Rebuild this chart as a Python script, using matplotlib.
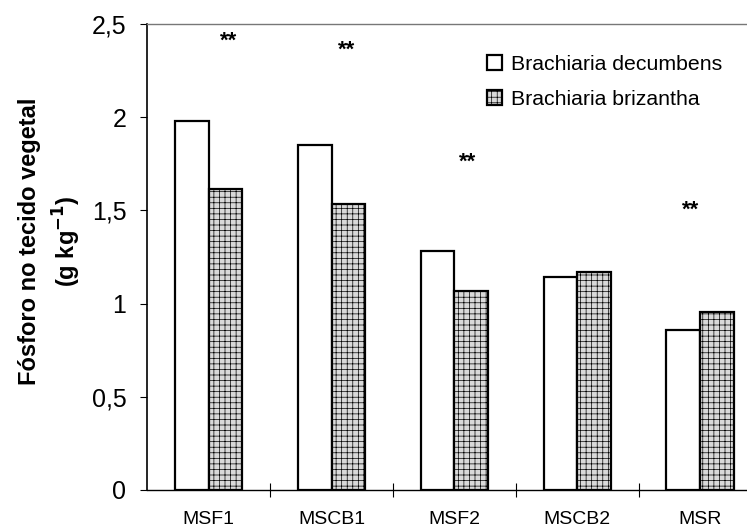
import numpy as np
import matplotlib
matplotlib.use("Agg")
from matplotlib import pyplot as plt

# dados
tratamentos = ["MSF1", "MSCB1", "MSF2", "MSCB2", "MSR"]
decumbens = [1.98, 1.85, 1.28, 1.14, 0.86]
brizantha = [1.615, 1.535, 1.07, 1.17, 0.955]
# posição dos asteriscos (x relativo ao grupo, altura)
sig_dx = [0.16, 0.12, 0.11, -0.08]
sig_y = [2.41, 2.36, 1.76, 1.50]
sig_idx = [0, 1, 2, 4]

plt.rcParams['font.family'] = ['Liberation Sans', 'DejaVu Sans']
plt.rcParams['font.size'] = 14
plt.rcParams['hatch.color'] = '#8c8c8c'
plt.rcParams['hatch.linewidth'] = 0.5

fig = plt.figure(figsize=(7.47, 5.28), dpi=100)
ax = fig.add_axes([0.197, 0.072, 0.803, 0.8826])

x = np.arange(len(tratamentos))
w = 0.275
ax.bar(x - w / 2, decumbens, w, color='white', edgecolor='black', linewidth=1.6,
       label='Brachiaria decumbens', zorder=2)
ax.bar(x + w / 2, brizantha, w, color='#d9d9d9', edgecolor='black', linewidth=1.6,
       hatch='+++', label='Brachiaria brizantha', zorder=2)

for i, dx, yy in zip(sig_idx, sig_dx, sig_y):
    ax.text(x[i] + dx, yy, "**", ha='center', va='center', fontsize=16, fontweight='bold')

ax.set_xlim(-0.5, 4.38)
ax.set_ylim(0, 2.5)
ax.set_yticks([0, 0.5, 1, 1.5, 2, 2.5])
ax.set_yticklabels(["0", "0,5", "1", "1,5", "2", "2,5"], fontsize=18)
ax.tick_params(axis='y', direction='out', length=5, width=0.8, pad=10)

ax.set_xticks(x)
ax.set_xticklabels(tratamentos, fontsize=14)
ax.tick_params(axis='x', length=0, pad=15)
ax.set_xticks(np.arange(0.5, 4.0, 1.0), minor=True)
ax.tick_params(axis='x', which='minor', direction='inout', length=10, width=0.8)

ax.spines['right'].set_visible(False)
ax.spines['top'].set_color('#777777')
ax.spines['top'].set_linewidth(1.0)
ax.spines['left'].set_linewidth(1.2)
ax.spines['bottom'].set_linewidth(1.0)

fig.text(0.040, 0.543, "Fósforo no tecido vegetal", rotation=90, ha='center', va='center',
         fontsize=17, fontweight='bold')
fig.text(0.090, 0.543, "(g kg$^{\\mathbf{-1}}$)", rotation=90, ha='center', va='center',
         fontsize=17, fontweight='bold')

leg = ax.legend(loc='upper left', bbox_to_anchor=(0.535, 0.975), frameon=False, fontsize=15.3,
                handlelength=0.7, handleheight=0.7, handletextpad=0.4, labelspacing=0.75)

fig.savefig("out.png", dpi=100)
